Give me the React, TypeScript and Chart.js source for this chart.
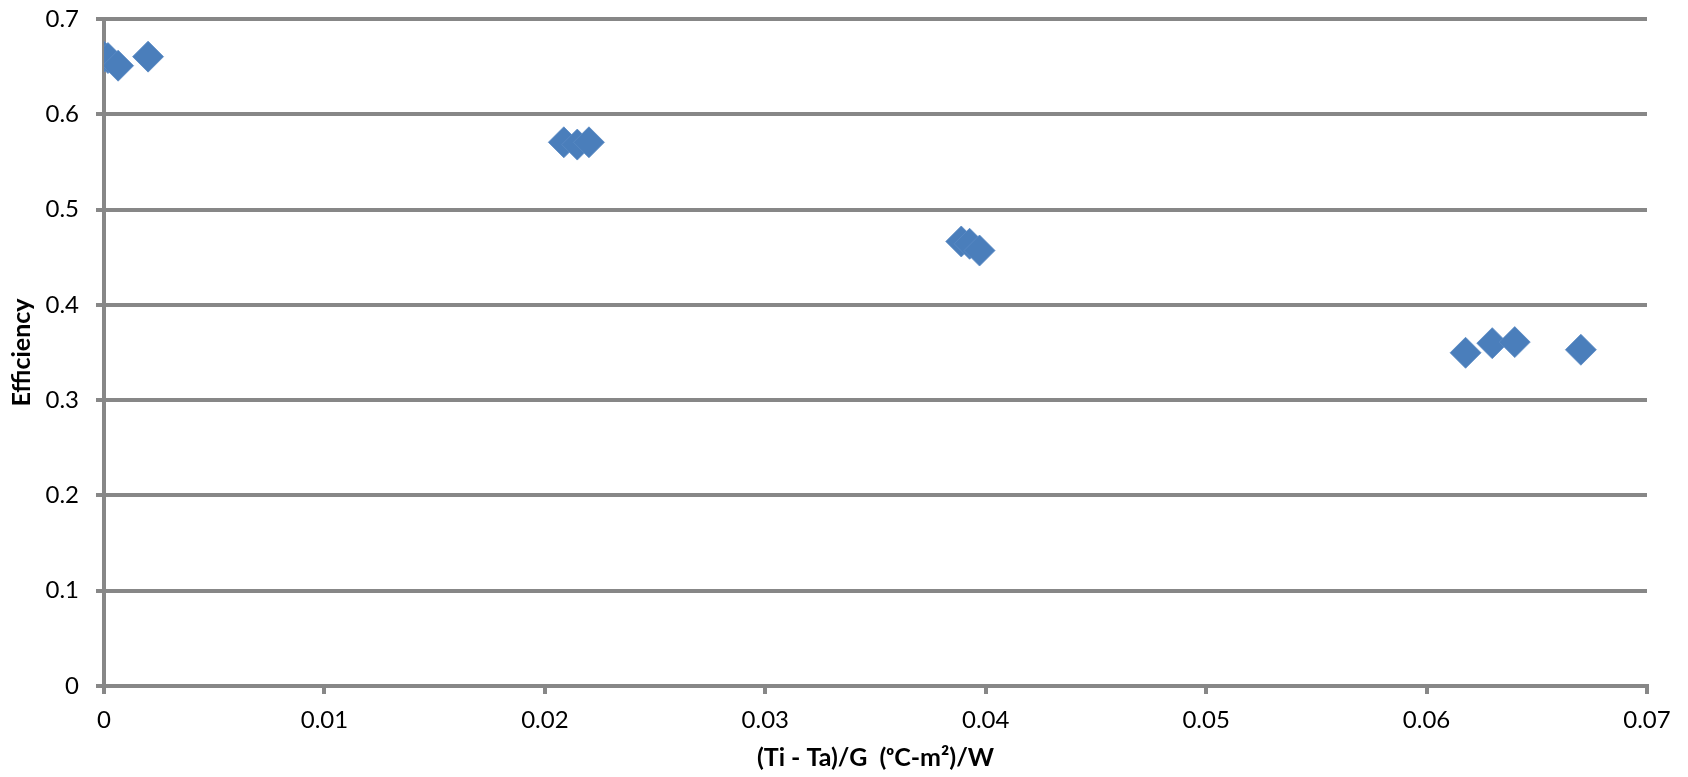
import React, { useEffect, useRef } from "react";
import { Chart, registerables } from "chart.js";

Chart.register(...registerables);

const xValues = [0.0, 0.00018, 0.00064, 0.002, 0.02086, 0.02147, 0.022, 0.03889, 0.03927, 0.03972, 0.06177, 0.06298, 0.064, 0.067];
const yValues = [0.6605, 0.659, 0.651, 0.6605, 0.5706, 0.5682, 0.5706, 0.4665, 0.4641, 0.457, 0.3497, 0.3598, 0.3609, 0.3529];
const xTickLabels = ["0", "0.01", "0.02", "0.03", "0.04", "0.05", "0.06", "0.07"];
const yTickLabels = ["0", "0.1", "0.2", "0.3", "0.4", "0.5", "0.6", "0.7"];
const xTitle = "(Ti - Ta)/G  (\u1D52C-m\u00B2)/W";
const yTitle = "Efficiency";

const GRAY = "#878787";
const FONT = "Lato, 'Open Sans', sans-serif";

export default function App() {
  const ref = useRef<HTMLCanvasElement | null>(null);

  useEffect(() => {
    if (!ref.current) return;
    const points = xValues.map((x, i) => ({ x, y: yValues[i] }));
    const chart = new Chart(ref.current, {
      type: "scatter",
      data: {
        datasets: [
          {
            data: points,
            pointStyle: "rectRot",
            pointRadius: 15.5,
            pointHoverRadius: 15.5,
            backgroundColor: "#4a7ebb",
            borderColor: "#5b8ac4",
            borderWidth: 0.8,
          },
        ],
      },
      options: {
        responsive: false,
        animation: false,
        events: [],
        layout: { padding: { top: 19, right: 41, left: 0, bottom: 0 } },
        plugins: { legend: { display: false }, tooltip: { enabled: false }, title: { display: false } },
        scales: {
          x: {
            type: "linear",
            min: 0,
            max: 0.07,
            afterFit: (s: any) => {
              s.height = 91;
              s.paddingLeft = 0;
              s.paddingRight = 0;
            },
            ticks: {
              stepSize: 0.01,
              color: "#000",
              padding: 12,
              maxRotation: 0,
              font: { family: FONT, size: 24 },
              callback: (_v: any, i: number) => xTickLabels[i],
            },
            grid: { drawOnChartArea: false, drawTicks: true, tickLength: 8, color: GRAY, lineWidth: 4 },
            border: { display: true, color: GRAY, width: 4 },
            title: {
              display: true,
              text: xTitle,
              color: "#000",
              font: { family: FONT, size: 25, weight: "bold" },
              padding: { top: 0, bottom: 4 },
            },
          },
          y: {
            type: "linear",
            min: 0,
            max: 0.7,
            afterFit: (s: any) => {
              s.width = 104;
              s.paddingTop = 0;
              s.paddingBottom = 0;
            },
            ticks: {
              stepSize: 0.1,
              color: "#000",
              padding: 17,
              font: { family: FONT, size: 24 },
              callback: (_v: any, i: number) => yTickLabels[i],
            },
            grid: { drawOnChartArea: true, drawTicks: true, tickLength: 8, color: GRAY, lineWidth: 4 },
            border: { display: true, color: GRAY, width: 4 },
            title: {
              display: true,
              text: yTitle,
              color: "#000",
              font: { family: FONT, size: 25, weight: "bold" },
              padding: { top: 7, bottom: 0 },
            },
          },
        },
      },
    });
    return () => chart.destroy();
  }, []);

  return (
    <div style={{ position: "fixed", left: 0, top: 0, width: 1688, height: 777, background: "#fff" }}>
      <canvas ref={ref} width={1688} height={777} style={{ width: 1688, height: 777, display: "block" }} />
    </div>
  );
}
